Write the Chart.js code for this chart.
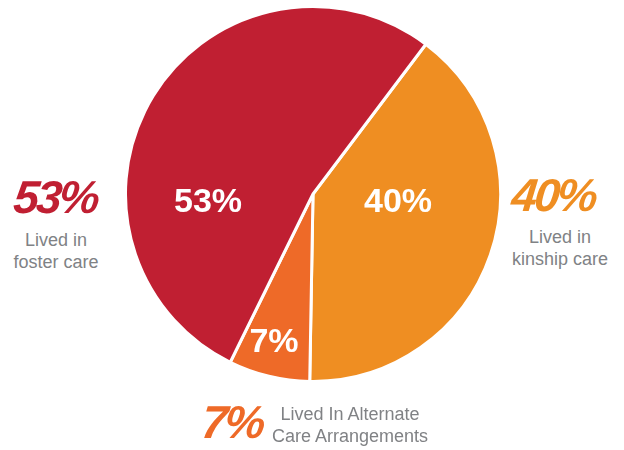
<!DOCTYPE html>
<html>
<head>
<meta charset="utf-8">
<script src="https://cdn.jsdelivr.net/npm/chart.js@4.4.1/dist/chart.umd.min.js"></script>
<style>
  html, body { margin: 0; padding: 0; background: #fff; }
  #wrap { position: relative; width: 624px; height: 450px; overflow: hidden; font-family: "Liberation Sans", Arial, sans-serif; }
  #pie-box { position: absolute; left: 124px; top: 5px; width: 378px; height: 378px; }
  .lbl { position: absolute; white-space: nowrap; }
  .in { color: #fff; font-weight: bold; font-size: 34px; transform: translate(-50%, -50%); }
  .big { font-weight: bold; font-style: italic; font-size: 46px; letter-spacing: -3px; line-height: 1; transform: skewX(-6deg); }
  .sub { color: #808285; font-size: 18px; line-height: 22px; text-align: center; }
</style>
</head>
<body>
<div id="wrap">
  <div id="pie-box"><canvas id="chart"></canvas></div>

  <div class="lbl in" style="left:208px; top:200px;">53%</div>
  <div class="lbl in" style="left:398px; top:200px;">40%</div>
  <div class="lbl in" style="left:274px; top:340px;">7%</div>

  <div class="lbl big" style="left:14px; top:174px; color:#C01F32;">53%</div>
  <div class="lbl sub" style="left:6px; top:229px; width:100px;">Lived in<br>foster care</div>

  <div class="lbl big" style="left:512px; top:172px; color:#EF8E22;">40%</div>
  <div class="lbl sub" style="left:510px; top:226px; width:100px;">Lived in<br>kinship care</div>

  <div class="lbl big" style="left:202px; top:399px; color:#EE6A28;">7%</div>
  <div class="lbl sub" style="left:265px; top:403px; width:170px;">Lived In Alternate<br>Care Arrangements</div>
</div>
<script>
  // ── Data ──────────────────────────────────────────────────────────────
  const CATEGORIES = ['Lived in kinship care', 'Lived In Alternate Care Arrangements', 'Lived in foster care'];
  const VALUES     = [40, 7, 53];
  const COLORS     = ['#EF8E22', '#EE6A28', '#C01F32'];

  new Chart(document.getElementById('chart'), {
    type: 'pie',
    data: {
      labels: CATEGORIES,
      datasets: [{
        data: VALUES,
        backgroundColor: COLORS,
        borderColor: '#ffffff',
        borderWidth: 3,
      }],
    },
    options: {
      responsive: true,
      maintainAspectRatio: false,
      animation: false,
      rotation: 37,
      layout: { padding: 0 },
      plugins: {
        legend: { display: false },
        tooltip: { enabled: false },
      },
    },
  });
</script>
</body>
</html>
